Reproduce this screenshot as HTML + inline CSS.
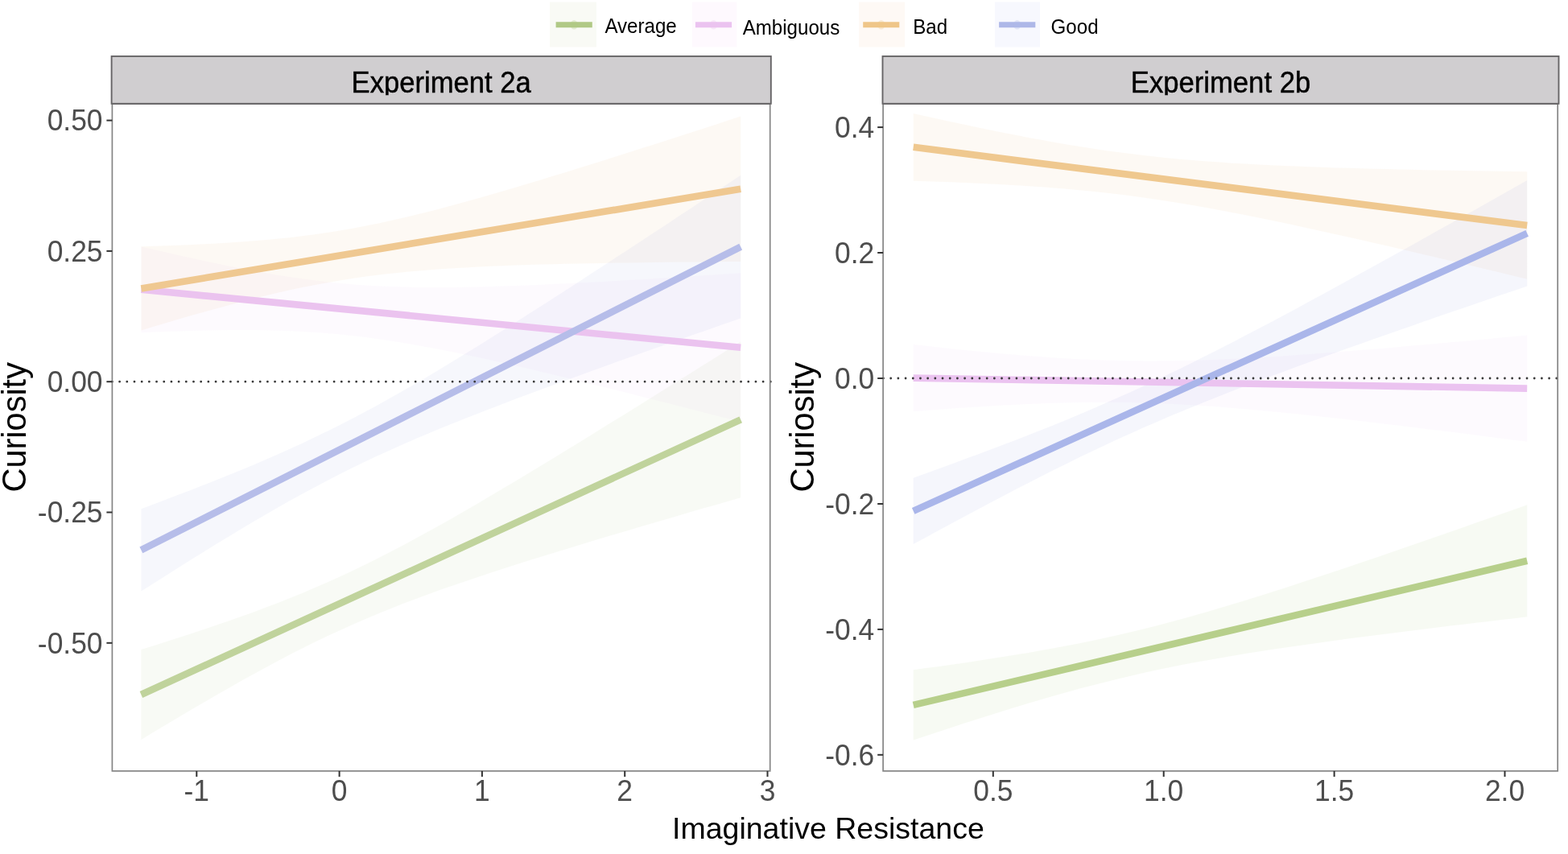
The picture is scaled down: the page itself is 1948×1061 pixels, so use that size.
<!DOCTYPE html>
<html><head><meta charset="utf-8"><title>Curiosity by Imaginative Resistance</title>
<style>html,body{margin:0;padding:0;background:#fff;overflow:hidden} svg{display:block} .b{mix-blend-mode:multiply}</style></head>
<body>
<svg width="1948" height="1061" viewBox="0 0 1948 1061">
<rect width="1948" height="1061" fill="#fff"/>
<g>
<rect x="683" y="2.5" width="58.0" height="56" fill="#f9faf5"/>
<line x1="690.6" y1="30.8" x2="735.8" y2="30.8" stroke="#b1c986" stroke-width="7"/>
<ellipse cx="713.2" cy="30.8" rx="4.5" ry="5.8" fill="#b1c986" opacity="0.3"/>
<text transform="translate(751.40,40.90) scale(1,1.04)" font-family="Liberation Sans, Arial, sans-serif" font-size="24.1" fill="#000">Average</text>
<rect x="860" y="2.5" width="55.2" height="56" fill="#fef9fe"/>
<line x1="863.9" y1="30.8" x2="909.1" y2="30.8" stroke="#ebc3f0" stroke-width="7"/>
<ellipse cx="886.5" cy="30.8" rx="4.5" ry="5.8" fill="#ebc3f0" opacity="0.3"/>
<text transform="translate(922.70,43.00) scale(1,1.04)" font-family="Liberation Sans, Arial, sans-serif" font-size="24.1" fill="#000">Ambiguous</text>
<rect x="1067" y="2.5" width="57.0" height="56" fill="#fef9f5"/>
<line x1="1072.2" y1="30.8" x2="1117.3" y2="30.8" stroke="#efc689" stroke-width="7"/>
<ellipse cx="1094.8" cy="30.8" rx="4.5" ry="5.8" fill="#efc689" opacity="0.3"/>
<text transform="translate(1134.30,42.00) scale(1,1.04)" font-family="Liberation Sans, Arial, sans-serif" font-size="24.1" fill="#000">Bad</text>
<rect x="1236" y="2.5" width="56.0" height="56" fill="#f7f8fe"/>
<line x1="1241.1" y1="30.8" x2="1286.3" y2="30.8" stroke="#aeb8e8" stroke-width="7"/>
<ellipse cx="1263.7" cy="30.8" rx="4.5" ry="5.8" fill="#aeb8e8" opacity="0.3"/>
<text transform="translate(1305.60,42.10) scale(1,1.04)" font-family="Liberation Sans, Arial, sans-serif" font-size="24.1" fill="#000">Good</text>
</g>
<g>
<path d="M175.4,807.1 L190.9,802.2 L206.4,797.3 L222.0,792.3 L237.5,787.2 L253.0,782.1 L268.5,776.8 L284.0,771.5 L299.5,766.0 L315.1,760.4 L330.6,754.6 L346.1,748.7 L361.6,742.5 L377.1,736.2 L392.6,729.6 L408.2,722.8 L423.7,715.8 L439.2,708.5 L454.7,701.0 L470.2,693.3 L485.7,685.3 L501.2,677.2 L516.8,668.8 L532.3,660.3 L547.8,651.7 L563.3,642.9 L578.8,634.0 L594.4,624.9 L609.9,615.8 L625.4,606.6 L640.9,597.4 L656.4,588.0 L671.9,578.7 L687.5,569.2 L703.0,559.8 L718.5,550.2 L734.0,540.7 L749.5,531.1 L765.0,521.5 L780.6,511.9 L796.1,502.2 L811.6,492.5 L827.1,482.8 L842.6,473.1 L858.1,463.4 L873.6,453.7 L889.2,443.9 L904.7,434.2 L920.2,424.4 L920.2,618.2 L904.7,622.7 L889.2,627.2 L873.6,631.6 L858.1,636.1 L842.6,640.7 L827.1,645.2 L811.6,649.7 L796.1,654.3 L780.6,658.9 L765.0,663.5 L749.5,668.1 L734.0,672.8 L718.5,677.5 L703.0,682.2 L687.5,686.9 L671.9,691.7 L656.4,696.6 L640.9,701.5 L625.4,706.5 L609.9,711.5 L594.4,716.7 L578.8,721.9 L563.3,727.2 L547.8,732.6 L532.3,738.2 L516.8,743.9 L501.2,749.8 L485.7,755.9 L470.2,762.2 L454.7,768.7 L439.2,775.4 L423.7,782.4 L408.2,789.6 L392.6,797.1 L377.1,804.7 L361.6,812.6 L346.1,820.7 L330.6,829.0 L315.1,837.5 L299.5,846.1 L284.0,854.9 L268.5,863.8 L253.0,872.8 L237.5,881.8 L222.0,891.0 L206.4,900.3 L190.9,909.6 L175.4,918.9Z" fill="#c0d39c" fill-opacity="0.105"/>
<path d="M175.4,306.4 L190.9,310.0 L206.4,313.6 L222.0,317.2 L237.5,320.6 L253.0,324.0 L268.5,327.3 L284.0,330.5 L299.5,333.5 L315.1,336.5 L330.6,339.3 L346.1,341.9 L361.6,344.3 L377.1,346.6 L392.6,348.6 L408.2,350.4 L423.7,352.0 L439.2,353.4 L454.7,354.5 L470.2,355.4 L485.7,356.1 L501.2,356.6 L516.8,356.9 L532.3,357.1 L547.8,357.1 L563.3,357.0 L578.8,356.8 L594.4,356.5 L609.9,356.1 L625.4,355.6 L640.9,355.1 L656.4,354.5 L671.9,353.8 L687.5,353.1 L703.0,352.3 L718.5,351.6 L734.0,350.7 L749.5,349.9 L765.0,349.0 L780.6,348.1 L796.1,347.2 L811.6,346.2 L827.1,345.3 L842.6,344.3 L858.1,343.3 L873.6,342.3 L889.2,341.3 L904.7,340.3 L920.2,339.2 L920.2,524.4 L904.7,520.3 L889.2,516.3 L873.6,512.3 L858.1,508.3 L842.6,504.3 L827.1,500.3 L811.6,496.4 L796.1,492.4 L780.6,488.5 L765.0,484.6 L749.5,480.7 L734.0,476.9 L718.5,473.0 L703.0,469.3 L687.5,465.5 L671.9,461.8 L656.4,458.1 L640.9,454.5 L625.4,451.0 L609.9,447.5 L594.4,444.1 L578.8,440.8 L563.3,437.6 L547.8,434.5 L532.3,431.5 L516.8,428.7 L501.2,426.0 L485.7,423.5 L470.2,421.2 L454.7,419.1 L439.2,417.2 L423.7,415.6 L408.2,414.2 L392.6,413.0 L377.1,412.0 L361.6,411.3 L346.1,410.7 L330.6,410.3 L315.1,410.1 L299.5,410.1 L284.0,410.1 L268.5,410.3 L253.0,410.6 L237.5,411.0 L222.0,411.4 L206.4,412.0 L190.9,412.6 L175.4,413.2Z" fill="#ebc3ef" fill-opacity="0.09"/>
<path d="M175.4,306.3 L190.9,305.8 L206.4,305.3 L222.0,304.7 L237.5,304.1 L253.0,303.3 L268.5,302.5 L284.0,301.5 L299.5,300.5 L315.1,299.3 L330.6,298.0 L346.1,296.5 L361.6,294.9 L377.1,293.0 L392.6,291.0 L408.2,288.7 L423.7,286.2 L439.2,283.5 L454.7,280.5 L470.2,277.4 L485.7,274.0 L501.2,270.5 L516.8,266.8 L532.3,262.9 L547.8,258.9 L563.3,254.8 L578.8,250.5 L594.4,246.2 L609.9,241.8 L625.4,237.2 L640.9,232.7 L656.4,228.0 L671.9,223.4 L687.5,218.6 L703.0,213.9 L718.5,209.1 L734.0,204.2 L749.5,199.4 L765.0,194.5 L780.6,189.6 L796.1,184.6 L811.6,179.7 L827.1,174.7 L842.6,169.7 L858.1,164.7 L873.6,159.7 L889.2,154.7 L904.7,149.6 L920.2,144.6 L920.2,325.0 L904.7,325.1 L889.2,325.2 L873.6,325.4 L858.1,325.5 L842.6,325.6 L827.1,325.8 L811.6,326.0 L796.1,326.2 L780.6,326.4 L765.0,326.6 L749.5,326.9 L734.0,327.2 L718.5,327.5 L703.0,327.8 L687.5,328.2 L671.9,328.6 L656.4,329.1 L640.9,329.6 L625.4,330.2 L609.9,330.8 L594.4,331.6 L578.8,332.4 L563.3,333.3 L547.8,334.3 L532.3,335.4 L516.8,336.7 L501.2,338.2 L485.7,339.8 L470.2,341.6 L454.7,343.6 L439.2,345.8 L423.7,348.2 L408.2,350.9 L392.6,353.7 L377.1,356.8 L361.6,360.1 L346.1,363.6 L330.6,367.3 L315.1,371.1 L299.5,375.1 L284.0,379.2 L268.5,383.4 L253.0,387.7 L237.5,392.1 L222.0,396.6 L206.4,401.2 L190.9,405.8 L175.4,410.5Z" fill="#efc891" fill-opacity="0.1"/>
<path d="M175.4,632.2 L190.9,626.4 L206.4,620.5 L222.0,614.6 L237.5,608.7 L253.0,602.6 L268.5,596.5 L284.0,590.2 L299.5,583.9 L315.1,577.4 L330.6,570.8 L346.1,564.0 L361.6,557.1 L377.1,550.0 L392.6,542.6 L408.2,535.1 L423.7,527.3 L439.2,519.3 L454.7,511.1 L470.2,502.7 L485.7,494.1 L501.2,485.3 L516.8,476.3 L532.3,467.2 L547.8,457.9 L563.3,448.5 L578.8,439.0 L594.4,429.4 L609.9,419.8 L625.4,410.0 L640.9,400.2 L656.4,390.3 L671.9,380.4 L687.5,370.4 L703.0,360.4 L718.5,350.4 L734.0,340.3 L749.5,330.2 L765.0,320.1 L780.6,309.9 L796.1,299.8 L811.6,289.6 L827.1,279.4 L842.6,269.1 L858.1,258.9 L873.6,248.6 L889.2,238.4 L904.7,228.1 L920.2,217.8 L920.2,395.4 L904.7,400.8 L889.2,406.2 L873.6,411.7 L858.1,417.1 L842.6,422.6 L827.1,428.0 L811.6,433.5 L796.1,439.0 L780.6,444.6 L765.0,450.1 L749.5,455.7 L734.0,461.3 L718.5,466.9 L703.0,472.6 L687.5,478.3 L671.9,484.0 L656.4,489.8 L640.9,495.6 L625.4,501.5 L609.9,507.4 L594.4,513.5 L578.8,519.6 L563.3,525.8 L547.8,532.1 L532.3,538.5 L516.8,545.1 L501.2,551.8 L485.7,558.7 L470.2,565.8 L454.7,573.1 L439.2,580.6 L423.7,588.3 L408.2,596.2 L392.6,604.4 L377.1,612.7 L361.6,621.3 L346.1,630.1 L330.6,639.0 L315.1,648.1 L299.5,657.3 L284.0,666.7 L268.5,676.1 L253.0,685.7 L237.5,695.3 L222.0,705.1 L206.4,714.9 L190.9,724.7 L175.4,734.6Z" fill="#b6bde9" fill-opacity="0.12"/>
<line x1="175.4" y1="863.0" x2="920.2" y2="521.3" stroke="#c0d39c" stroke-width="8.6"/>
<line x1="175.4" y1="359.8" x2="920.2" y2="431.8" stroke="#ebc3ef" stroke-width="8.6"/>
<line x1="175.4" y1="358.4" x2="920.2" y2="234.8" stroke="#efc891" stroke-width="8.6"/>
<line x1="175.4" y1="683.4" x2="920.2" y2="306.6" stroke="#b6bde9" stroke-width="8.6"/>
<line x1="139.4" y1="474.2" x2="957.7" y2="474.2" stroke="#3a3a3a" stroke-width="2.8" stroke-linecap="round" stroke-dasharray="0.01 9.180"/>
<rect x="139.4" y="129.0" width="817.3" height="828.9" fill="none" stroke="#858585" stroke-width="1.7"/>
<rect x="138.6" y="69.9" width="819.2" height="58.9" fill="#d0ced0" stroke="#666466" stroke-width="1.9"/>
<clipPath id="ca"><rect x="138.6" y="70" width="819.2" height="48.2"/></clipPath>
<g clip-path="url(#ca)"><text transform="translate(548.20,114.90) scale(1,1.065)" text-anchor="middle" font-family="Liberation Sans, Arial, sans-serif" font-size="34.65" fill="#000" stroke="#000" stroke-width="0.45">Experiment 2a</text></g>
</g>
<g>
<path d="M1134.7,832.3 L1150.6,830.1 L1166.5,827.9 L1182.4,825.7 L1198.2,823.4 L1214.1,821.0 L1230.0,818.6 L1245.9,816.1 L1261.8,813.6 L1277.7,810.9 L1293.6,808.1 L1309.4,805.3 L1325.3,802.3 L1341.2,799.2 L1357.1,795.9 L1373.0,792.5 L1388.9,789.0 L1404.8,785.3 L1420.6,781.4 L1436.5,777.4 L1452.4,773.3 L1468.3,769.0 L1484.2,764.5 L1500.1,760.0 L1516.0,755.3 L1531.8,750.6 L1547.7,745.7 L1563.6,740.8 L1579.5,735.7 L1595.4,730.7 L1611.3,725.5 L1627.1,720.3 L1643.0,715.1 L1658.9,709.8 L1674.8,704.4 L1690.7,699.1 L1706.6,693.7 L1722.5,688.2 L1738.3,682.8 L1754.2,677.3 L1770.1,671.8 L1786.0,666.3 L1801.9,660.8 L1817.8,655.2 L1833.7,649.6 L1849.5,644.1 L1865.4,638.5 L1881.3,632.9 L1897.2,627.3 L1897.2,766.3 L1881.3,768.2 L1865.4,770.0 L1849.5,771.9 L1833.7,773.8 L1817.8,775.7 L1801.9,777.6 L1786.0,779.5 L1770.1,781.5 L1754.2,783.5 L1738.3,785.4 L1722.5,787.5 L1706.6,789.5 L1690.7,791.6 L1674.8,793.6 L1658.9,795.8 L1643.0,797.9 L1627.1,800.2 L1611.3,802.4 L1595.4,804.7 L1579.5,807.1 L1563.6,809.6 L1547.7,812.1 L1531.8,814.7 L1516.0,817.4 L1500.1,820.2 L1484.2,823.1 L1468.3,826.1 L1452.4,829.3 L1436.5,832.6 L1420.6,836.1 L1404.8,839.7 L1388.9,843.4 L1373.0,847.4 L1357.1,851.4 L1341.2,855.6 L1325.3,860.0 L1309.4,864.4 L1293.6,869.0 L1277.7,873.7 L1261.8,878.5 L1245.9,883.4 L1230.0,888.4 L1214.1,893.5 L1198.2,898.6 L1182.4,903.7 L1166.5,909.0 L1150.6,914.2 L1134.7,919.5Z" fill="#b7cf8b" fill-opacity="0.105"/>
<path d="M1134.7,428.0 L1150.6,429.8 L1166.5,431.5 L1182.4,433.2 L1198.2,434.9 L1214.1,436.5 L1230.0,438.0 L1245.9,439.4 L1261.8,440.8 L1277.7,442.1 L1293.6,443.3 L1309.4,444.4 L1325.3,445.4 L1341.2,446.2 L1357.1,447.0 L1373.0,447.6 L1388.9,448.0 L1404.8,448.3 L1420.6,448.5 L1436.5,448.5 L1452.4,448.3 L1468.3,448.1 L1484.2,447.7 L1500.1,447.2 L1516.0,446.6 L1531.8,445.8 L1547.7,445.0 L1563.6,444.2 L1579.5,443.2 L1595.4,442.2 L1611.3,441.1 L1627.1,440.0 L1643.0,438.8 L1658.9,437.6 L1674.8,436.3 L1690.7,435.0 L1706.6,433.7 L1722.5,432.4 L1738.3,431.0 L1754.2,429.6 L1770.1,428.2 L1786.0,426.8 L1801.9,425.3 L1817.8,423.9 L1833.7,422.4 L1849.5,420.9 L1865.4,419.4 L1881.3,417.9 L1897.2,416.4 L1897.2,548.8 L1881.3,546.7 L1865.4,544.7 L1849.5,542.7 L1833.7,540.6 L1817.8,538.6 L1801.9,536.6 L1786.0,534.6 L1770.1,532.7 L1754.2,530.7 L1738.3,528.8 L1722.5,526.9 L1706.6,525.0 L1690.7,523.1 L1674.8,521.3 L1658.9,519.5 L1643.0,517.7 L1627.1,516.0 L1611.3,514.3 L1595.4,512.7 L1579.5,511.2 L1563.6,509.7 L1547.7,508.2 L1531.8,506.9 L1516.0,505.6 L1500.1,504.5 L1484.2,503.4 L1468.3,502.5 L1452.4,501.7 L1436.5,501.0 L1420.6,500.5 L1404.8,500.1 L1388.9,499.9 L1373.0,499.8 L1357.1,499.8 L1341.2,500.0 L1325.3,500.3 L1309.4,500.8 L1293.6,501.3 L1277.7,502.0 L1261.8,502.7 L1245.9,503.5 L1230.0,504.5 L1214.1,505.4 L1198.2,506.5 L1182.4,507.6 L1166.5,508.7 L1150.6,509.9 L1134.7,511.2Z" fill="#ebc3f0" fill-opacity="0.09"/>
<path d="M1134.7,140.9 L1150.6,144.5 L1166.5,148.0 L1182.4,151.4 L1198.2,154.8 L1214.1,158.2 L1230.0,161.5 L1245.9,164.7 L1261.8,167.8 L1277.7,170.9 L1293.6,173.8 L1309.4,176.7 L1325.3,179.4 L1341.2,182.0 L1357.1,184.5 L1373.0,186.9 L1388.9,189.1 L1404.8,191.1 L1420.6,193.0 L1436.5,194.8 L1452.4,196.4 L1468.3,197.9 L1484.2,199.3 L1500.1,200.5 L1516.0,201.6 L1531.8,202.7 L1547.7,203.6 L1563.6,204.5 L1579.5,205.3 L1595.4,206.0 L1611.3,206.6 L1627.1,207.3 L1643.0,207.8 L1658.9,208.4 L1674.8,208.8 L1690.7,209.3 L1706.6,209.7 L1722.5,210.1 L1738.3,210.5 L1754.2,210.8 L1770.1,211.2 L1786.0,211.5 L1801.9,211.8 L1817.8,212.1 L1833.7,212.3 L1849.5,212.6 L1865.4,212.8 L1881.3,213.1 L1897.2,213.3 L1897.2,346.7 L1881.3,342.9 L1865.4,339.1 L1849.5,335.3 L1833.7,331.5 L1817.8,327.7 L1801.9,323.9 L1786.0,320.2 L1770.1,316.4 L1754.2,312.7 L1738.3,309.0 L1722.5,305.3 L1706.6,301.7 L1690.7,298.1 L1674.8,294.5 L1658.9,290.9 L1643.0,287.4 L1627.1,283.9 L1611.3,280.5 L1595.4,277.1 L1579.5,273.7 L1563.6,270.5 L1547.7,267.3 L1531.8,264.2 L1516.0,261.2 L1500.1,258.3 L1484.2,255.4 L1468.3,252.8 L1452.4,250.2 L1436.5,247.8 L1420.6,245.5 L1404.8,243.3 L1388.9,241.3 L1373.0,239.5 L1357.1,237.8 L1341.2,236.2 L1325.3,234.8 L1309.4,233.5 L1293.6,232.3 L1277.7,231.2 L1261.8,230.2 L1245.9,229.3 L1230.0,228.4 L1214.1,227.7 L1198.2,227.0 L1182.4,226.3 L1166.5,225.7 L1150.6,225.2 L1134.7,224.7Z" fill="#efc88f" fill-opacity="0.1"/>
<path d="M1134.7,593.7 L1150.6,588.0 L1166.5,582.2 L1182.4,576.4 L1198.2,570.6 L1214.1,564.7 L1230.0,558.8 L1245.9,552.8 L1261.8,546.7 L1277.7,540.5 L1293.6,534.2 L1309.4,527.9 L1325.3,521.4 L1341.2,514.8 L1357.1,508.0 L1373.0,501.1 L1388.9,494.1 L1404.8,487.0 L1420.6,479.7 L1436.5,472.2 L1452.4,464.6 L1468.3,456.9 L1484.2,449.1 L1500.1,441.1 L1516.0,433.0 L1531.8,424.9 L1547.7,416.6 L1563.6,408.3 L1579.5,399.9 L1595.4,391.4 L1611.3,382.9 L1627.1,374.3 L1643.0,365.7 L1658.9,357.0 L1674.8,348.3 L1690.7,339.6 L1706.6,330.8 L1722.5,322.0 L1738.3,313.2 L1754.2,304.4 L1770.1,295.5 L1786.0,286.6 L1801.9,277.7 L1817.8,268.8 L1833.7,259.9 L1849.5,251.0 L1865.4,242.0 L1881.3,233.1 L1897.2,224.1 L1897.2,355.5 L1881.3,360.9 L1865.4,366.3 L1849.5,371.8 L1833.7,377.2 L1817.8,382.7 L1801.9,388.1 L1786.0,393.6 L1770.1,399.1 L1754.2,404.7 L1738.3,410.2 L1722.5,415.8 L1706.6,421.3 L1690.7,427.0 L1674.8,432.6 L1658.9,438.3 L1643.0,444.0 L1627.1,449.7 L1611.3,455.5 L1595.4,461.4 L1579.5,467.3 L1563.6,473.3 L1547.7,479.3 L1531.8,485.4 L1516.0,491.7 L1500.1,498.0 L1484.2,504.4 L1468.3,510.9 L1452.4,517.6 L1436.5,524.4 L1420.6,531.3 L1404.8,538.4 L1388.9,545.6 L1373.0,553.0 L1357.1,560.5 L1341.2,568.1 L1325.3,575.9 L1309.4,583.8 L1293.6,591.8 L1277.7,599.9 L1261.8,608.1 L1245.9,616.4 L1230.0,624.7 L1214.1,633.2 L1198.2,641.7 L1182.4,650.2 L1166.5,658.8 L1150.6,667.5 L1134.7,676.1Z" fill="#aab6ea" fill-opacity="0.12"/>
<line x1="1134.7" y1="875.9" x2="1897.2" y2="696.8" stroke="#b7cf8b" stroke-width="8.6"/>
<line x1="1134.7" y1="469.6" x2="1897.2" y2="482.6" stroke="#ebc3f0" stroke-width="8.6"/>
<line x1="1134.7" y1="182.8" x2="1897.2" y2="280.0" stroke="#efc88f" stroke-width="8.6"/>
<line x1="1134.7" y1="634.9" x2="1897.2" y2="289.8" stroke="#aab6ea" stroke-width="8.6"/>
<line x1="1097.5" y1="470.0" x2="1936.2" y2="470.0" stroke="#3a3a3a" stroke-width="2.8" stroke-linecap="round" stroke-dasharray="0.01 9.180"/>
<rect x="1097.1" y="129.0" width="838.1" height="828.9" fill="none" stroke="#858585" stroke-width="1.7"/>
<rect x="1096.5" y="69.9" width="840.0" height="58.9" fill="#d0ced0" stroke="#666466" stroke-width="1.9"/>
<clipPath id="cb"><rect x="1096.5" y="70" width="840.0" height="48.2"/></clipPath>
<g clip-path="url(#cb)"><text transform="translate(1516.50,114.90) scale(1,1.065)" text-anchor="middle" font-family="Liberation Sans, Arial, sans-serif" font-size="34.65" fill="#000" stroke="#000" stroke-width="0.45">Experiment 2b</text></g>
</g>
<g>
<line x1="132.4" y1="149.6" x2="139.4" y2="149.6" stroke="#333" stroke-width="2.0"/>
<text transform="translate(127.50,162.40) scale(1,1.025)" text-anchor="end" font-family="Liberation Sans, Arial, sans-serif" font-size="35.4" fill="#4d4d4d">0.50</text>
<line x1="132.4" y1="311.9" x2="139.4" y2="311.9" stroke="#333" stroke-width="2.0"/>
<text transform="translate(127.50,324.70) scale(1,1.025)" text-anchor="end" font-family="Liberation Sans, Arial, sans-serif" font-size="35.4" fill="#4d4d4d">0.25</text>
<line x1="132.4" y1="474.2" x2="139.4" y2="474.2" stroke="#333" stroke-width="2.0"/>
<text transform="translate(127.50,487.00) scale(1,1.025)" text-anchor="end" font-family="Liberation Sans, Arial, sans-serif" font-size="35.4" fill="#4d4d4d">0.00</text>
<line x1="132.4" y1="636.5" x2="139.4" y2="636.5" stroke="#333" stroke-width="2.0"/>
<text transform="translate(127.50,649.30) scale(1,1.025)" text-anchor="end" font-family="Liberation Sans, Arial, sans-serif" font-size="35.4" fill="#4d4d4d">-0.25</text>
<line x1="132.4" y1="798.8" x2="139.4" y2="798.8" stroke="#333" stroke-width="2.0"/>
<text transform="translate(127.50,811.60) scale(1,1.025)" text-anchor="end" font-family="Liberation Sans, Arial, sans-serif" font-size="35.4" fill="#4d4d4d">-0.50</text>
<line x1="1090.2" y1="158.1" x2="1097.1" y2="158.1" stroke="#333" stroke-width="2.0"/>
<text transform="translate(1086.20,171.40) scale(1,1.025)" text-anchor="end" font-family="Liberation Sans, Arial, sans-serif" font-size="35.4" fill="#4d4d4d">0.4</text>
<line x1="1090.2" y1="314.0" x2="1097.1" y2="314.0" stroke="#333" stroke-width="2.0"/>
<text transform="translate(1086.20,327.35) scale(1,1.025)" text-anchor="end" font-family="Liberation Sans, Arial, sans-serif" font-size="35.4" fill="#4d4d4d">0.2</text>
<line x1="1090.2" y1="470.0" x2="1097.1" y2="470.0" stroke="#333" stroke-width="2.0"/>
<text transform="translate(1086.20,483.30) scale(1,1.025)" text-anchor="end" font-family="Liberation Sans, Arial, sans-serif" font-size="35.4" fill="#4d4d4d">0.0</text>
<line x1="1090.2" y1="626.0" x2="1097.1" y2="626.0" stroke="#333" stroke-width="2.0"/>
<text transform="translate(1086.20,639.25) scale(1,1.025)" text-anchor="end" font-family="Liberation Sans, Arial, sans-serif" font-size="35.4" fill="#4d4d4d">-0.2</text>
<line x1="1090.2" y1="781.9" x2="1097.1" y2="781.9" stroke="#333" stroke-width="2.0"/>
<text transform="translate(1086.20,795.20) scale(1,1.025)" text-anchor="end" font-family="Liberation Sans, Arial, sans-serif" font-size="35.4" fill="#4d4d4d">-0.4</text>
<line x1="1090.2" y1="937.8" x2="1097.1" y2="937.8" stroke="#333" stroke-width="2.0"/>
<text transform="translate(1086.20,951.15) scale(1,1.025)" text-anchor="end" font-family="Liberation Sans, Arial, sans-serif" font-size="35.4" fill="#4d4d4d">-0.6</text>
<line x1="244.3" y1="957.9" x2="244.3" y2="965.0" stroke="#333" stroke-width="2.0"/>
<text transform="translate(244.30,994.70) scale(1,1.025)" text-anchor="middle" font-family="Liberation Sans, Arial, sans-serif" font-size="35.4" fill="#4d4d4d">-1</text>
<line x1="421.6" y1="957.9" x2="421.6" y2="965.0" stroke="#333" stroke-width="2.0"/>
<text transform="translate(421.60,994.70) scale(1,1.025)" text-anchor="middle" font-family="Liberation Sans, Arial, sans-serif" font-size="35.4" fill="#4d4d4d">0</text>
<line x1="598.9" y1="957.9" x2="598.9" y2="965.0" stroke="#333" stroke-width="2.0"/>
<text transform="translate(598.90,994.70) scale(1,1.025)" text-anchor="middle" font-family="Liberation Sans, Arial, sans-serif" font-size="35.4" fill="#4d4d4d">1</text>
<line x1="776.2" y1="957.9" x2="776.2" y2="965.0" stroke="#333" stroke-width="2.0"/>
<text transform="translate(776.20,994.70) scale(1,1.025)" text-anchor="middle" font-family="Liberation Sans, Arial, sans-serif" font-size="35.4" fill="#4d4d4d">2</text>
<line x1="953.5" y1="957.9" x2="953.5" y2="965.0" stroke="#333" stroke-width="2.0"/>
<text transform="translate(953.50,994.70) scale(1,1.025)" text-anchor="middle" font-family="Liberation Sans, Arial, sans-serif" font-size="35.4" fill="#4d4d4d">3</text>
<line x1="1233.8" y1="957.9" x2="1233.8" y2="965.0" stroke="#333" stroke-width="2.0"/>
<text transform="translate(1233.80,994.70) scale(1,1.025)" text-anchor="middle" font-family="Liberation Sans, Arial, sans-serif" font-size="35.4" fill="#4d4d4d">0.5</text>
<line x1="1445.7" y1="957.9" x2="1445.7" y2="965.0" stroke="#333" stroke-width="2.0"/>
<text transform="translate(1445.70,994.70) scale(1,1.025)" text-anchor="middle" font-family="Liberation Sans, Arial, sans-serif" font-size="35.4" fill="#4d4d4d">1.0</text>
<line x1="1657.6" y1="957.9" x2="1657.6" y2="965.0" stroke="#333" stroke-width="2.0"/>
<text transform="translate(1657.60,994.70) scale(1,1.025)" text-anchor="middle" font-family="Liberation Sans, Arial, sans-serif" font-size="35.4" fill="#4d4d4d">1.5</text>
<line x1="1869.5" y1="957.9" x2="1869.5" y2="965.0" stroke="#333" stroke-width="2.0"/>
<text transform="translate(1869.50,994.70) scale(1,1.025)" text-anchor="middle" font-family="Liberation Sans, Arial, sans-serif" font-size="35.4" fill="#4d4d4d">2.0</text>
</g>
<text transform="translate(1028.90,1042.20) scale(1,1.0)" text-anchor="middle" font-family="Liberation Sans, Arial, sans-serif" font-size="37.5" fill="#000">Imaginative Resistance</text>
<text transform="translate(32.30,530.80) rotate(-90) scale(1,1.03)" text-anchor="middle" font-family="Liberation Sans, Arial, sans-serif" font-size="41.5" fill="#000">Curiosity</text>
<text transform="translate(1010.70,530.80) rotate(-90) scale(1,1.03)" text-anchor="middle" font-family="Liberation Sans, Arial, sans-serif" font-size="41.5" fill="#000">Curiosity</text>
</svg>
</body></html>
